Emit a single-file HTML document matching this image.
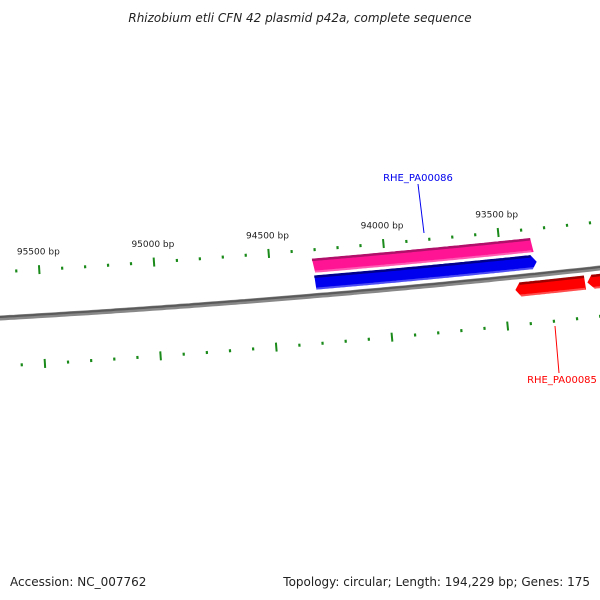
<!DOCTYPE html>
<html><head><meta charset="utf-8"><style>
html,body{margin:0;padding:0;background:#fff;}
svg{display:block;font-family:"DejaVu Sans","Liberation Sans",sans-serif;}
</style></head><body>
<svg id="map" width="600" height="600" viewBox="0 0 600 600">
<text x="300" y="22" text-anchor="middle" font-size="12" font-style="italic" fill="#222">Rhizobium etli CFN 42 plasmid p42a, complete sequence</text>
<text x="10" y="586" font-size="12" fill="#222">Accession: NC_007762</text>
<text x="590" y="586" text-anchor="end" font-size="12" fill="#222">Topology: circular; Length: 194,229 bp; Genes: 175</text>
<g id="layer"></g>
</svg>
<script>
const majorTicks = [95500, 95000, 94500, 94000, 93500];
const tickLabels = ["95500 bp", "95000 bp", "94500 bp", "94000 bp", "93500 bp"];
const geneNames = ["RHE_PA00086", "RHE_PA00086b", "RHE_PA00085", "RHE_PA00084"];
const geneStart = [94315, 94311, 93451, 93139];
const geneEnd = [93356, 93347, 93148, 92850];
const geneStrand = [0, 1, -1, -1];

const NS = "http://www.w3.org/2000/svg";
const layer = document.getElementById('layer');
function xOf(bp){ return 42 + (95500 - bp) * 0.2304; }
function base(x){ return 318 - 0.0567 * x - 0.0000444 * x * x; }
function pt(bp, off){
  const x = xOf(bp);
  const d = -0.0567 - 2 * 0.0000444 * x;
  const n = Math.sqrt(1 + d * d);
  // normal pointing "up" (negative offset = up)
  return [x - off * d / n * -1 * -1 * 0 + (off * -d / n) * -1, base(x) + off / n];
}
function P(bp, off){
  const x = xOf(bp);
  const d = -0.0567 - 2 * 0.0000444 * x;
  const n = Math.sqrt(1 + d * d);
  return [x - off * d / n, base(x) + off / n];
}
function mk(tag, attrs){ const e = document.createElementNS(NS, tag); for (const k in attrs) e.setAttribute(k, attrs[k]); layer.appendChild(e); return e; }

// backbone
let bb = [];
for (let bp = 96000; bp >= 92500; bp -= 20) { const p = P(bp, 0); bb.push(p[0].toFixed(1) + ',' + p[1].toFixed(1)); }
const bb1 = mk('polyline', {points: bb.join(' '), fill: 'none', stroke: '#888', 'stroke-width': 5});


let bb2 = [];
for (let bp = 96000; bp >= 92500; bp -= 20) { const p = P(bp, -1); bb2.push(p[0].toFixed(1) + ',' + p[1].toFixed(1)); }
const bbl = mk('polyline', {points: bb2.join(' '), fill: 'none', stroke: '#5a5a5a', 'stroke-width': 2});



// ticks
for (let bp = 95700; bp >= 92500; bp -= 100) {
  const major = (bp % 500 === 0);
  const h = major ? 4.5 : 1.5;
  [-46, 48].forEach(function(c){
    const a = P(bp, c - h), b = P(bp, c + h);
    const t = mk('line', {x1: a[0], y1: a[1], x2: b[0], y2: b[1], stroke: '#1a8a1a', 'stroke-width': major ? 2 : 2.2});
    
    
  });
}
majorTicks.forEach(function(bp, i){
  const p = P(bp, -61);
  const t = mk('text', {x: p[0], y: p[1], 'text-anchor': 'middle', 'font-size': 9, fill: '#222'});
  t.textContent = tickLabels[i];
  
  
});

// genes
const styles = {
  0: {o1: -37, o2: -23, fill: '#ff1493', edge: '#b0106a', name: 'cds-feature'},
  1: {o1: -20, o2: -6, fill: '#0000ee', edge: '#00008a', name: 'gene-forward'},
  '-1': {o1: 6, o2: 20, fill: '#ff0000', edge: '#a00000', name: 'gene-reverse'}
};
geneStart.forEach(function(s, i){
  const st = styles[geneStrand[i]], e = geneEnd[i];
  const tipLen = 20;
  let pts = [];
  if (geneStrand[i] === 1) {
    for (let bp = s; bp >= e + tipLen; bp -= 10) pts.push(P(bp, st.o1));
    pts.push(P(e, (st.o1 + st.o2) / 2));
    for (let bp = e + tipLen; bp <= s; bp += 10) pts.push(P(bp, st.o2));
  } else if (geneStrand[i] === -1) {
    pts.push(P(s, (st.o1 + st.o2) / 2));
    for (let bp = s - tipLen; bp >= e; bp -= 10) pts.push(P(bp, st.o1));
    for (let bp = e; bp <= s - tipLen; bp += 10) pts.push(P(bp, st.o2));
  } else {
    for (let bp = s; bp >= e; bp -= 10) pts.push(P(bp, st.o1));
    for (let bp = e; bp <= s; bp += 10) pts.push(P(bp, st.o2));
  }
  const g = mk('polygon', {points: pts.map(p => p[0].toFixed(1) + ',' + p[1].toFixed(1)).join(' '), fill: st.fill});
  
  
  let ed = [];
  for (let bp = s - (geneStrand[i] === -1 ? tipLen : 0); bp >= e + (geneStrand[i] === 1 ? tipLen : 0); bp -= 10) { const p = P(bp, st.o1 + 1); ed.push(p[0].toFixed(1) + ',' + p[1].toFixed(1)); }
  const el = mk('polyline', {points: ed.join(' '), fill: 'none', stroke: st.edge, 'stroke-width': 2.5});
  
  
  let lo = [];
  for (let bp = s; bp >= e; bp -= 10) { const p = P(bp, st.o2 - 1); lo.push(p[0].toFixed(1) + ',' + p[1].toFixed(1)); }
  const ll = mk('polyline', {points: lo.join(' '), fill: 'none', stroke: 'rgba(255,255,255,0.3)', 'stroke-width': 2});
  
  
});

// labels
const l1 = mk('line', {x1: 418, y1: 184, x2: 424, y2: 233, stroke: '#0000ee', 'stroke-width': 1});


const t1 = mk('text', {x: 418, y: 181, 'text-anchor': 'middle', 'font-size': 10, fill: '#0000ee'});
t1.textContent = 'RHE_PA00086';


const l2 = mk('line', {x1: 555, y1: 326, x2: 559, y2: 373, stroke: '#ff0000', 'stroke-width': 1});


const t2 = mk('text', {x: 562, y: 383, 'text-anchor': 'middle', 'font-size': 10, fill: '#ff0000'});
t2.textContent = 'RHE_PA00085';


</script>
</body></html>
